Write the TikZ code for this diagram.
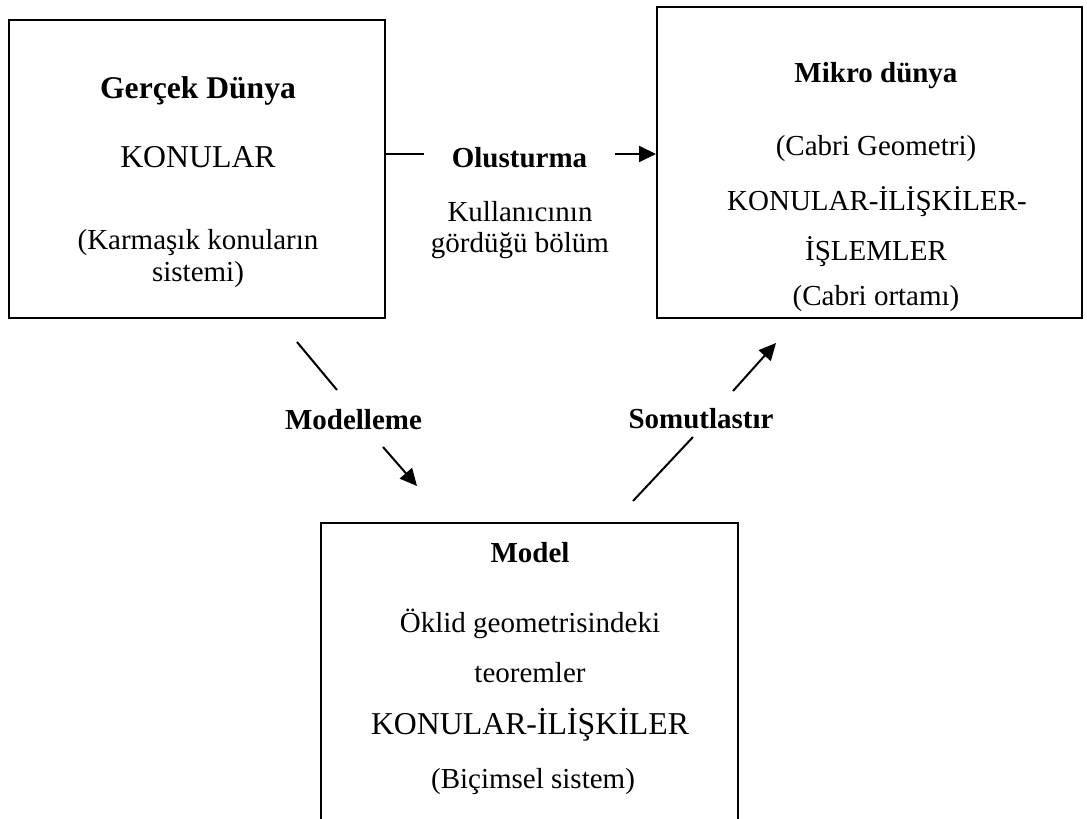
\documentclass[tikz,border=0pt]{standalone}
\usepackage{fontspec}
\setmainfont{Liberation Serif}
\usetikzlibrary{arrows.meta,positioning}
\tikzset{
  worldbox/.style={draw=black,line width=1pt,rectangle,inner sep=0pt},
  linetext/.style={anchor=base,inner sep=0pt,font=\fontsize{14.5}{17}\selectfont,text=black},
  titletext/.style={linetext,font=\fontsize{14.5}{17}\selectfont\bfseries},
  bigtext/.style={linetext,font=\fontsize{15.9}{19}\selectfont},
  bigtitle/.style={linetext,font=\fontsize{15.8}{19}\selectfont\bfseries},
  link/.style={draw=black,line width=1pt},
  linkarrow/.style={link,-{Triangle[length=8.5pt,width=8pt]}}
}
\begin{document}
\begin{tikzpicture}[x=0.5pt,y=-0.5pt]
  \clip (0,0) rectangle (1087,819);
  \node[worldbox,minimum width=188pt,minimum height=149pt] (gercek) at (197,169) {};
  \node[worldbox,minimum width=212.5pt,minimum height=155.5pt] (mikro) at (869.5,162.5) {};
  \node[worldbox,minimum width=208.5pt,minimum height=163.5pt] (model) at (529.5,686.5) {};

  \node[bigtitle] (gercek-t) at (198,98) {Gerçek Dünya};
  \node[bigtext] (gercek-a) at (198,167) {KONULAR};
  \node[linetext] (gercek-b) at (198,249) {(Karmaşık konuların};
  \node[linetext] (gercek-c) at (198,281) {sistemi)};

  \node[titletext] (mikro-t) at (876,82) {Mikro dünya};
  \node[linetext] (mikro-a) at (876,155) {(Cabri Geometri)};
  \node[linetext] (mikro-b) at (877,210) {KONULAR-İLİŞKİLER-};
  \node[linetext] (mikro-c) at (876,260) {İŞLEMLER};
  \node[linetext] (mikro-d) at (876,305) {(Cabri ortamı)};

  \node[titletext] (model-t) at (530,562) {Model};
  \node[linetext] (model-a) at (530,632) {Öklid geometrisindeki};
  \node[linetext] (model-b) at (530,682) {teoremler};
  \node[bigtext] (model-c) at (530,734) {KONULAR-İLİŞKİLER};
  \node[linetext] (model-d) at (533,788) {(Biçimsel sistem)};

  \node[titletext,inner xsep=13.5pt] (olus) at (519.5,167) {Olusturma};
  \node[linetext] (olus-a) at (520,221) {Kullanıcının};
  \node[linetext] (olus-b) at (520,252) {gördüğü bölüm};
  \coordinate (olus-w) at ([yshift=6.5pt]olus.base west);
  \coordinate (olus-e) at ([yshift=6.5pt]olus.base east);
  \draw[link] (gercek.east |- olus-w) -- (olus-w);
  \draw[linkarrow] (olus-e) -- (mikro.west |- olus-e);

  \node[titletext] (modelleme) at (353.5,429) {Modelleme};
  \coordinate (mod-a) at (297,342);
  \coordinate (mod-b) at (337,390);
  \coordinate (mod-c) at (383,447);
  \coordinate (mod-d) at (417,486);
  \draw[link] (mod-a) -- (mod-b);
  \draw[linkarrow] (mod-c) -- (mod-d);

  \node[titletext] (somut) at (701,428) {Somutlastır};
  \coordinate (som-a) at (633,501);
  \coordinate (som-b) at (693,437);
  \coordinate (som-c) at (733,391);
  \coordinate (som-d) at (776,343);
  \draw[link] (som-a) -- (som-b);
  \draw[linkarrow] (som-c) -- (som-d);
\end{tikzpicture}
\end{document}
